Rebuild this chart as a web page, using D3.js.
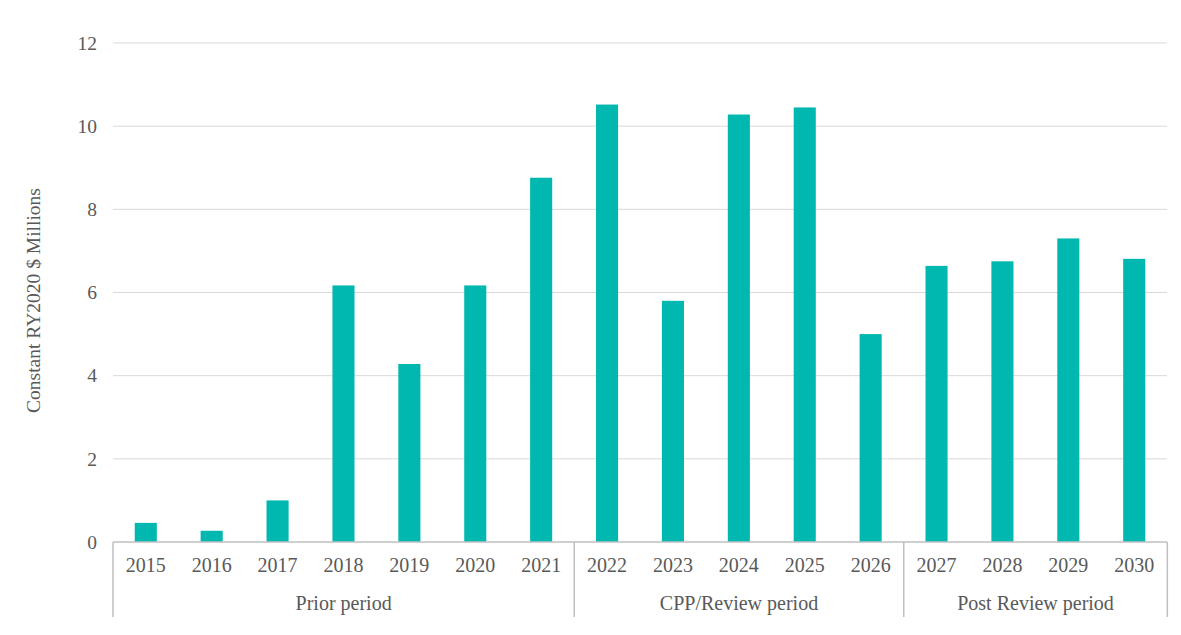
<!DOCTYPE html>
<meta charset="utf-8">
<style>
body { margin: 0; background: #fff; }
svg text { font-family: "Liberation Serif", "DejaVu Serif", serif; fill: #595959; }
.grid line { stroke: #d9d9d9; stroke-width: 1; }
.sep line { stroke: #bfbfbf; stroke-width: 1.5; }
</style>
<body>
<script src="https://d3js.org/d3.v7.min.js"></script>
<script>
var years = ['2015','2016','2017','2018','2019','2020','2021','2022','2023','2024','2025','2026','2027','2028','2029','2030']
var values = [0.46, 0.27, 1.0, 6.17, 4.28, 6.17, 8.76, 10.52, 5.8, 10.28, 10.45, 5.0, 6.64, 6.75, 7.3, 6.81]
var groupNames = ['Prior period', 'CPP/Review period', 'Post Review period']
var groupSizes = [7, 5, 4]
var yTicks = [0, 2, 4, 6, 8, 10, 12]

var width = 1181
var height = 635
var margin = { top: 43, right: 14, bottom: 93, left: 113 }

var svg = d3.select('body')
    .append('svg')
    .attr('width', width)
    .attr('height', height)

var x = d3.scaleBand()
    .domain(years)
    .range([margin.left, width - margin.right])
    .paddingInner(0.665)
    .paddingOuter(0.33)

var y = d3.scaleLinear()
    .domain([0, 12])
    .range([height - margin.bottom, margin.top])

// gridlines
svg.append('g')
    .attr('class', 'grid')
    .selectAll('line')
    .data(yTicks.slice(1))
    .enter().append('line')
    .attr('x1', margin.left)
    .attr('x2', width - margin.right)
    .attr('y1', function (d) { return y(d) })
    .attr('y2', function (d) { return y(d) })

// y tick labels
svg.append('g')
    .selectAll('text')
    .data(yTicks)
    .enter().append('text')
    .attr('x', 97)
    .attr('y', function (d) { return y(d) })
    .attr('dy', '0.35em')
    .attr('text-anchor', 'end')
    .style('font-size', '19.5px')
    .text(function (d) { return d })

// bars
svg.append('g')
    .selectAll('rect')
    .data(years)
    .enter().append('rect')
    .attr('x', function (d) { return x(d) })
    .attr('width', x.bandwidth())
    .attr('y', function (d, i) { return y(values[i]) })
    .attr('height', function (d, i) { return y(0) - y(values[i]) })
    .attr('fill', '#00b8b0')

// baseline
svg.append('line')
    .attr('x1', margin.left)
    .attr('x2', width - margin.right)
    .attr('y1', y(0))
    .attr('y2', y(0))
    .attr('stroke', '#bfbfbf')
    .attr('stroke-width', 1.5)

// year labels
svg.append('g')
    .selectAll('text')
    .data(years)
    .enter().append('text')
    .attr('x', function (d) { return x(d) + x.bandwidth() / 2 })
    .attr('y', y(0) + 30)
    .attr('text-anchor', 'middle')
    .style('font-size', '20px')
    .text(function (d) { return d })

// group separators and labels
var step = x.step()
var bounds = [0]
groupSizes.forEach(function (n, i) { bounds.push(bounds[i] + n) })

svg.append('g')
    .attr('class', 'sep')
    .selectAll('line')
    .data(bounds)
    .enter().append('line')
    .attr('x1', function (d) { return margin.left + d * step })
    .attr('x2', function (d) { return margin.left + d * step })
    .attr('y1', y(0))
    .attr('y2', y(0) + 75)

svg.append('g')
    .selectAll('text')
    .data(groupNames)
    .enter().append('text')
    .attr('x', function (d, i) { return margin.left + (bounds[i] + bounds[i + 1]) / 2 * step })
    .attr('y', y(0) + 68)
    .attr('text-anchor', 'middle')
    .style('font-size', '20px')
    .text(function (d) { return d })

// y axis title
svg.append('text')
    .attr('transform', 'translate(40,' + ((margin.top + height - margin.bottom) / 2 + 8) + ') rotate(-90)')
    .attr('text-anchor', 'middle')
    .style('font-size', '19.5px')
    .text('Constant RY2020 $ Millions')
</script>
</body>
